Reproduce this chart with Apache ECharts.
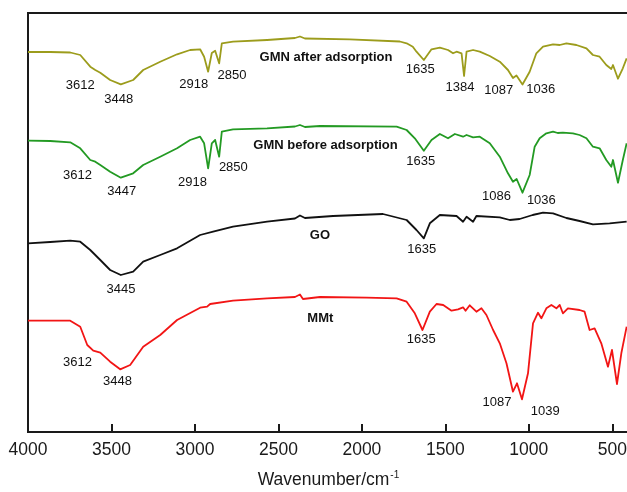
<!DOCTYPE html>
<html>
<head>
<meta charset="utf-8">
<script src="https://cdn.jsdelivr.net/npm/echarts@6/dist/echarts.min.js"></script>
<style>html,body{margin:0;padding:0;background:#fff;}#c{width:627px;height:492px;}</style>
</head>
<body>
<div id="c"></div>
<script>
// Wavenumber (cm-1) and relative transmittance (arbitrary units, offset curves)
const afterWn = [4000,3867,3747,3687,3627,3597,3567,3508,3444,3370,3310,3208,3107,3029,2969,2945,2921,2899,2879,2855,2839,2772,2568,2401,2371,2341,2072,1773,1732,1695,1673,1629,1583,1533,1484,1454,1433,1403,1388,1373,1334,1294,1234,1174,1125,1095,1074,1038,995,955,915,855,815,775,715,655,616,576,536,506,496,466,437,414];
const afterT  = [380,380,379.5,377,365.3,362,359.3,352,347.7,352,362,370.3,377.7,382,382.7,375.3,360.3,379,381.3,368.7,388.7,390.3,392,394,395.5,393.5,392.7,390.5,388.7,385.3,380.3,372,382.7,384.3,382,378.7,380.3,378.7,356,380.3,382,380.3,376,370.3,362,354,356.5,347.5,360.3,378.7,385.3,387.7,387,388.7,387,383.7,377,375.3,367,363,367,353.3,363.7,373.7];

const beforeWn = [4000,3867,3747,3687,3627,3597,3567,3508,3444,3370,3310,3208,3107,3029,2969,2945,2921,2899,2879,2855,2839,2772,2568,2401,2371,2341,2251,1792,1732,1683,1629,1583,1533,1484,1443,1394,1373,1334,1294,1234,1174,1125,1095,1073,1038,995,965,935,895,855,827,796,736,696,655,616,576,536,506,496,466,437,414];
const beforeT  = [291.3,291,289.7,283.7,272,270.3,267,260.3,254.3,258.7,267,275.3,283.7,292,295.3,288.7,263.7,288.7,292,275.3,300.3,302.7,303.7,305.5,307,305,306,305.3,302,293.7,281.3,292,298,293.7,298,295.3,297,294.7,295.3,288.7,275.3,258.7,250.3,253,239.3,257,285.3,293.7,298.7,300.3,299,299.3,298.7,297,293.7,285.3,283.7,272,265.3,272,249.3,272,288.7];

const goWn = [4000,3867,3747,3687,3627,3567,3508,3444,3370,3310,3208,3107,2969,2891,2772,2568,2401,2371,2341,2173,1874,1732,1673,1629,1593,1533,1433,1394,1373,1334,1314,1174,1114,1055,977,915,855,775,696,616,516,414];
const goT  = [188.7,190,191.3,190.3,182,172,162,157,160.3,170.3,177,183.7,197,200.3,205.3,210.3,213.5,216.5,214,216,218,212,202,193.7,208.7,217,216,210.3,215.3,210.3,216,214.7,212,213,217,219.3,218.7,214,211,207.7,208.7,210.3];

const mmtWn = [4000,3867,3747,3687,3645,3609,3567,3508,3448,3388,3310,3208,3107,2969,2927,2909,2772,2568,2401,2371,2353,2251,1972,1792,1732,1683,1637,1593,1553,1513,1463,1424,1394,1379,1354,1314,1284,1254,1214,1174,1134,1095,1071,1041,1005,975,945,925,895,865,835,815,796,766,696,666,636,606,566,526,502,472,446,414];
const mmtT  = [111.3,111.3,111.3,105.3,87,81.3,79.3,70.3,62.7,67,85.3,97,112,124.3,125.3,128,131.3,133.7,135,137.5,133,135,134.3,133.7,130.3,118.7,102,120.3,128,127,121.3,122.7,124.7,121.3,126.7,120.3,123.7,117,102,88.7,68.7,40.3,48.7,32.7,58.7,108.7,119.3,113.7,123.7,127,123.7,127,118.7,123.7,122,120.3,102,103.7,88.7,65.3,82,48,78.7,105.3];

// Annotations: text, wavenumber, transmittance
const afterLabels  = [["3612",3687,347],["3448",3456,333],["2918",3007,348],["2850",2778,357],["1635",1650,362.7],["1384",1412,344.7],["1087",1180,341.3],["1036",929,342.7]];
const beforeLabels = [["3612",3703,257],["3447",3438,241],["2918",3015,249.7],["2850",2770,264.7],["1635",1648,270.3],["1086",1194,236],["1036",925,232]];
const goLabels     = [["3445",3443,142.7],["1635",1641,183]];
const mmtLabels    = [["3612",3703,69.3],["3448",3464,50.3],["1635",1645,93],["1087",1191,29.3],["1039",902,21]];
const nameLabels   = [["GMN after adsorption",2215,374.7],["GMN before adsorption",2218,286.3],["GO",2251,196.5],["MMt",2249,113.7]];

const xTicks = [4000,3500,3000,2500,2000,1500,1000,500];

const FONT = 'Liberation Sans, Arial, sans-serif';
const zip = (a, b) => a.map((v, i) => [v, b[i]]);
const lineSeries = (name, wn, t, color) => ({
  name, type: 'line', data: zip(wn, t), showSymbol: false, symbol: 'none',
  smooth: false,
  lineStyle: { color, width: 1.8, join: 'round' }, z: 3, animation: false
});
const labelSeries = (arr, bold) => ({
  type: 'scatter', symbolSize: 0, silent: true, animation: false, z: 5,
  data: arr.map(a => ({ name: a[0], value: [a[1], a[2]] })),
  label: {
    show: true, position: 'inside', formatter: '{b}',
    fontFamily: FONT, fontSize: 13, fontWeight: bold ? 'bold' : 'normal',
    color: '#111111', textBorderWidth: 0, opacity: 1
  },
  itemStyle: { opacity: 1 }
});

const chart = echarts.init(document.getElementById('c'), null, { renderer: 'canvas' });
chart.setOption({
  backgroundColor: '#ffffff',
  animation: false,
  grid: { left: 28, right: -2, top: 13, bottom: 60, containLabel: false, outerBoundsMode: 'none',
          show: true, borderColor: '#1a1a1a', borderWidth: 2, backgroundColor: 'transparent' },
  xAxis: {
    type: 'value', inverse: true, min: 400, max: 4000,
    axisLine: { show: true, lineStyle: { color: '#1a1a1a', width: 2 } },
    axisTick: { show: true, inside: true, length: 8, lineStyle: { color: '#1a1a1a', width: 2 }, customValues: xTicks },
    axisLabel: { show: true, customValues: xTicks, formatter: v => String(v), fontSize: 17.5, color: '#1a1a1a', margin: 9, fontFamily: FONT, hideOverlap: false },
    splitLine: { show: false },
    name: '{a|Wavenumber/cm}{b|-1}', nameLocation: 'middle', nameGap: 38,
    nameTextStyle: {
      fontFamily: FONT, color: '#1a1a1a',
      rich: {
        a: { fontSize: 17.5, color: '#1a1a1a', fontFamily: FONT },
        b: { fontSize: 10, color: '#1a1a1a', verticalAlign: 'top', fontFamily: FONT, padding: [0, 0, 10, 1] }
      }
    }
  },
  yAxis: {
    type: 'value', min: 0, max: 419,
    axisLine: { show: true, lineStyle: { color: '#1a1a1a', width: 2 } },
    axisTick: { show: false }, axisLabel: { show: false }, splitLine: { show: false }
  },
  series: [
    lineSeries('GMN after adsorption', afterWn, afterT, '#9c9c1c'),
    lineSeries('GMN before adsorption', beforeWn, beforeT, '#239a23'),
    lineSeries('GO', goWn, goT, '#111111'),
    lineSeries('MMt', mmtWn, mmtT, '#f21515'),
    labelSeries(afterLabels, false),
    labelSeries(beforeLabels, false),
    labelSeries(goLabels, false),
    labelSeries(mmtLabels, false),
    labelSeries(nameLabels, true)
  ]
});
</script>
</body>
</html>
